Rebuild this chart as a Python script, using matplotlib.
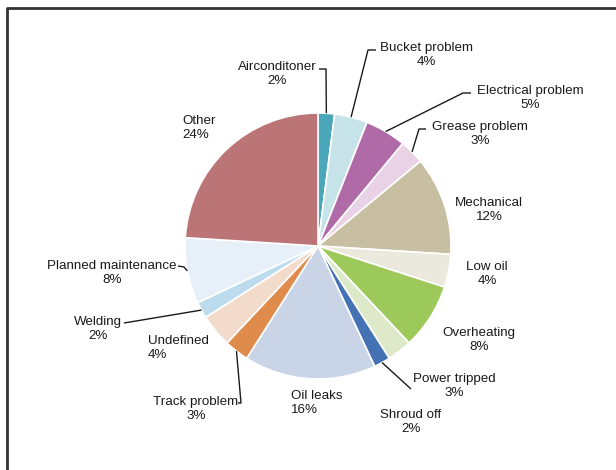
import numpy as np
import matplotlib.pyplot as plt

# downtime causes, percent of total
causes = ["Airconditoner", "Bucket problem", "Electrical problem", "Grease problem",
          "Mechanical", "Low oil", "Overheating", "Power tripped", "Shroud off",
          "Oil leaks", "Track problem", "Undefined", "Welding",
          "Planned maintenance", "Other"]
shares = [2, 4, 5, 3, 12, 4, 8, 3, 2, 16, 3, 4, 2, 8, 24]

colors = ["#4aa7b9", "#c6e3ea", "#b06aa8", "#e9d1e6", "#c8bfa2", "#ebe8de",
          "#9dc95b", "#dde9c9", "#4572b4", "#c9d4e7", "#df8b4b", "#f3dbcb",
          "#bcdcee", "#e7f0f8", "#bb7577"]

W, H = 616, 470
CX, CY, R = 318, 246, 133  # pie centre / radius in pixels (y down)

# label text anchor (x, y, ha) in pixels
label_pos = {
    "Airconditoner": (277, 74, "center"),
    "Bucket problem": (426, 55, "center"),
    "Electrical problem": (530, 98, "center"),
    "Grease problem": (480, 134, "center"),
    "Mechanical": (489, 210, "center"),
    "Low oil": (487, 274, "center"),
    "Overheating": (479, 340, "center"),
    "Power tripped": (454, 386, "center"),
    "Shroud off": (411, 422, "center"),
    "Oil leaks": (291, 403, "left"),
    "Track problem": (196, 409, "center"),
    "Undefined": (148, 348, "left"),
    "Welding": (98, 329, "center"),
    "Planned maintenance": (112, 273, "center"),
    "Other": (182, 128, "left"),
}

# leader lines: (label attach point, elbow) in pixels
leaders = {
    "Airconditoner": [(319, 69), (326, 69)],
    "Bucket problem": [(376, 50), (368, 50)],
    "Electrical problem": [(471, 93), (463, 93)],
    "Grease problem": [(426, 129), (419, 129)],
    "Shroud off": [(411, 389)],
    "Track problem": [(238, 403), (241, 403)],
    "Welding": [(124, 323)],
    "Planned maintenance": [(178, 266), (184, 267)],
}

plt.rcParams["font.family"] = ["Liberation Sans", "DejaVu Sans"]

fig = plt.figure(figsize=(W / 100, H / 100), dpi=100)
ax = fig.add_axes([0, 0, 1, 1])

ax.pie(shares, colors=colors, startangle=90, counterclock=False,
       center=(CX, H - CY), radius=R, frame=True,
       wedgeprops=dict(edgecolor="white", linewidth=1.2))
ax.set_xlim(0, W)
ax.set_ylim(0, H)
ax.set_aspect("equal")
ax.axis("off")

total = sum(shares)
cum = np.cumsum([0] + shares)
for i, name in enumerate(causes):
    x, y, ha = label_pos[name]
    ax.text(x, H - y, f"{name}\n{shares[i] / total * 100:.0f}%", ha=ha, va="center",
            fontsize=9.6, color="#1a1a1a", linespacing=1.2)
    if name in leaders:
        mid = (cum[i] + shares[i] / 2) / total * 2 * np.pi
        px = CX + R * np.sin(mid)
        py = CY - R * np.cos(mid)
        pts = leaders[name] + [(px, py)]
        ax.plot([p[0] for p in pts], [H - p[1] for p in pts],
                color="#1a1a1a", lw=1.0, solid_capstyle="butt")

# cropped frame: top and left edges only
ax.plot([7, 7, W], [0, H - 8, H - 8], color="#333333", lw=2)

fig.savefig("out.png", dpi=100)
